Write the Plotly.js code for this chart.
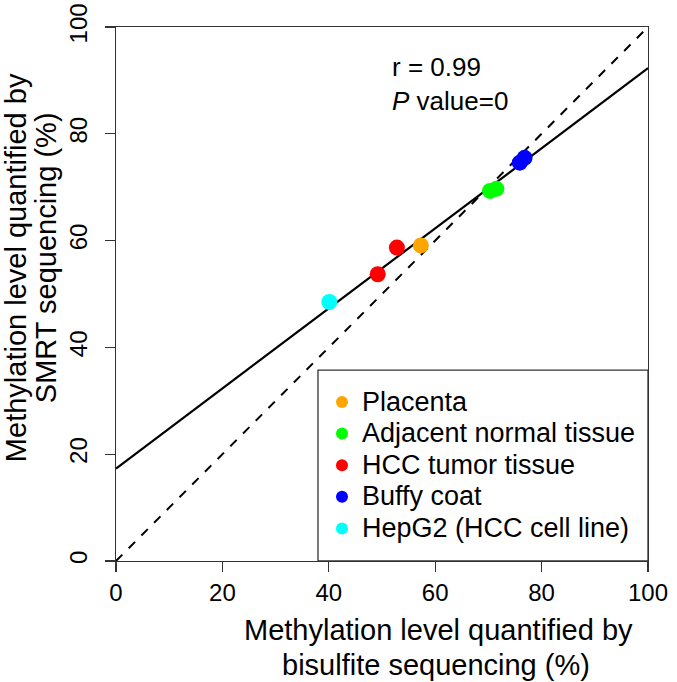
<!DOCTYPE html>
<html>
<head>
<meta charset="utf-8">
<script src="https://cdn.plot.ly/plotly-3.0.1.min.js"></script>
<style>html,body{margin:0;padding:0;background:#fff;}#chart{width:677px;height:682px;}</style>
</head>
<body>
<div id="chart"></div>
<script>
// ---- data ----
const groupNames = ["Placenta", "Adjacent normal tissue", "HCC tumor tissue", "Buffy coat", "HepG2 (HCC cell line)"];
const groupColors = ["#FFA500", "#00FF00", "#FF0000", "#0000FF", "#00FFFF"];
const placentaX = [57.3];
const placentaY = [59.1];
const adjacentX = [70.3, 71.5];
const adjacentY = [69.3, 69.7];
const hccX = [49.2, 52.8];
const hccY = [53.7, 58.7];
const buffyX = [75.9, 76.8];
const buffyY = [74.6, 75.5];
const hepg2X = [40.1];
const hepg2Y = [48.5];
const fitIntercept = 17.3;
const fitSlope = 0.75;
const axisRange = [0, 100];
const tickVals = [0, 20, 40, 60, 80, 100];
const statLabel = "r = 0.99<br><i>P</i> value=0";
const xTitleLines = ["Methylation level quantified by", "bisulfite sequencing (%)"];
const yTitleLines = ["Methylation level quantified by", "SMRT sequencing (%)"];

const groupsX = [placentaX, adjacentX, hccX, buffyX, hepg2X];
const groupsY = [placentaY, adjacentY, hccY, buffyY, hepg2Y];

const FONT = "Arial, 'Liberation Sans', sans-serif";
const PL = 116, PT = 27, PW = 532, PH = 533.7;
const px2x = p => (p - PL) / PW;          // pixel -> paper x
const px2y = p => (PT + PH - p) / PH;     // pixel -> paper y

const traces = [];
// identity (dashed) line
traces.push({
  x: axisRange, y: axisRange, mode: "lines", showlegend: false, hoverinfo: "skip",
  line: {color: "#000", width: 2, dash: "9px,9px"}
});
// regression line
traces.push({
  x: axisRange, y: axisRange.map(v => fitIntercept + fitSlope * v),
  mode: "lines", showlegend: false, hoverinfo: "skip",
  line: {color: "#000", width: 2.2}
});
groupNames.forEach((name, i) => {
  traces.push({
    x: groupsX[i], y: groupsY[i], mode: "markers", type: "scatter",
    name: '<span style="font-size:27px">' + name + '</span>',
    legendgroup: "g" + i,
    marker: {color: groupColors[i], size: 16}
  });
});

const axisCommon = {
  range: axisRange, tickvals: tickVals, ticks: "outside", ticklen: 10, tickwidth: 1.2,
  tickcolor: "#333", showline: true, mirror: true, linecolor: "#333", linewidth: 1.3,
  showgrid: false, zeroline: false, tickfont: {family: FONT, size: 24, color: "#000"},
  fixedrange: true
};

const titleFont = {family: FONT, size: 29, color: "#000"};
const annotations = [
  {xref: "x", yref: "y", x: 51.5, y: 89.3, xanchor: "left", yanchor: "middle", align: "left",
   text: statLabel, showarrow: false, font: {family: FONT, size: 26, color: "#000"}},
  {xref: "paper", yref: "paper", x: px2x(438), y: px2y(630), xanchor: "center", yanchor: "middle",
   text: xTitleLines[0], showarrow: false, font: titleFont},
  {xref: "paper", yref: "paper", x: px2x(436), y: px2y(665), xanchor: "center", yanchor: "middle",
   text: xTitleLines[1], showarrow: false, font: titleFont},
  {xref: "paper", yref: "paper", x: px2x(16), y: px2y(268), xanchor: "center", yanchor: "middle",
   textangle: -90, text: yTitleLines[0], showarrow: false, font: titleFont},
  {xref: "paper", yref: "paper", x: px2x(46), y: px2y(258), xanchor: "center", yanchor: "middle",
   textangle: -90, text: yTitleLines[1], showarrow: false, font: titleFont}
];

const layout = {
  width: 677, height: 682,
  margin: {l: PL, r: 677 - PL - PW, t: PT, b: 682 - PT - PH},
  paper_bgcolor: "#fff", plot_bgcolor: "#fff",
  font: {family: FONT, color: "#000"},
  showlegend: true,
  legend: {
    x: px2x(322), xanchor: "left", y: px2y(381), yanchor: "top",
    bgcolor: "rgba(0,0,0,0)", borderwidth: 0, itemsizing: "constant",
    font: {family: FONT, size: 22, color: "#000"}, tracegroupgap: 0
  },
  xaxis: Object.assign({}, axisCommon),
  yaxis: Object.assign({}, axisCommon, {tickangle: -90, ticklabelstandoff: 8}),
  shapes: [{
    type: "rect", xref: "paper", yref: "paper",
    x0: px2x(318), x1: 1, y0: 0, y1: px2y(370),
    line: {color: "#333", width: 1.3}, fillcolor: "#fff", layer: "above"
  }],
  annotations: annotations
};

Plotly.newPlot("chart", traces, layout, {staticPlot: true, displayModeBar: false});
</script>
</body>
</html>
